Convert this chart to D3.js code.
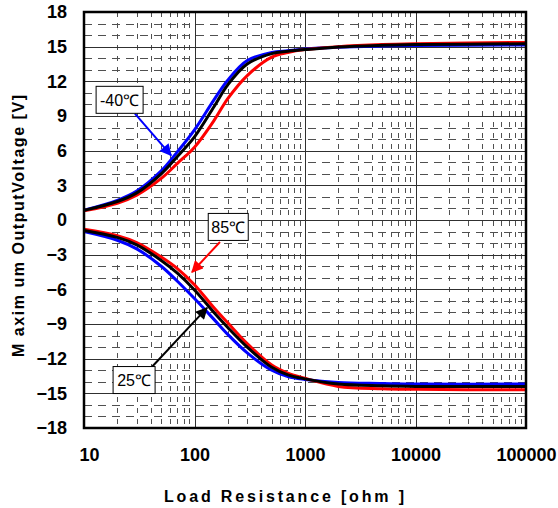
<!DOCTYPE html>
<html>
<head>
<meta charset="utf-8">
<script src="https://cdn.jsdelivr.net/npm/d3@7"></script>
<style>
  body { margin: 0; background: #fff; }
  svg text { font-family: "Liberation Sans", Arial, sans-serif; }
</style>
</head>
<body>
<div id="chart"></div>
<script>
// load resistance (ohm) sample points
var resistance = [10, 20, 30, 50, 70, 100, 150, 200, 300, 500, 700, 1000, 2000, 5000, 10000, 100000];

// max positive output voltage
var posM40 = [0.85, 1.7, 2.5, 4.25, 5.9, 7.8, 10.4, 12.1, 13.8, 14.5, 14.65, 14.8, 14.95, 15.05, 15.1, 15.15];
var pos25  = [0.83, 1.6, 2.35, 4.0, 5.5, 7.2, 9.8, 11.7, 13.5, 14.4, 14.6, 14.75, 14.98, 15.12, 15.18, 15.25];
var pos85  = [0.8, 1.45, 2.15, 3.6, 4.9, 6.3, 8.6, 10.5, 12.5, 14.1, 14.5, 14.75, 15.0, 15.18, 15.25, 15.37];

// max negative output voltage
var negM40 = [-1.0, -1.75, -2.5, -4.0, -5.3, -6.8, -8.6, -9.9, -11.5, -13.0, -13.55, -13.8, -14.07, -14.15, -14.2, -14.2];
var neg25  = [-0.9, -1.5, -2.15, -3.5, -4.6, -6.05, -8.0, -9.3, -11.0, -12.75, -13.4, -13.75, -14.2, -14.35, -14.4, -14.4];
var neg85  = [-0.8, -1.35, -1.95, -3.2, -4.2, -5.6, -7.6, -8.9, -10.7, -12.55, -13.25, -13.7, -14.4, -14.6, -14.65, -14.7];

var xTicks = [10, 100, 1000, 10000, 100000];
var yTicks = [18, 15, 12, 9, 6, 3, 0, -3, -6, -9, -12, -15, -18];

// callouts: label, box centre (R, V), arrow start (R, V), arrow tip (R, V)
var callouts = [
  {label: '-40\u2103', cx: 21, cy: 10.4, w: 47, sx: 28.9, sy: 9.2, tx: 61.4, ty: 5.6, color: '#0000ff'},
  {label: '85\u2103', cx: 202, cy: -0.6, w: 40, sx: 170, sy: -1.9, tx: 95, ty: -4.5, color: '#ff0000'},
  {label: '25\u2103', cx: 28.4, cy: -13.85, w: 42, sx: 41.3, sy: -12.7, tx: 129.8, ty: -7.6, color: '#000000'}
];

var W = 558, H = 508;
var pLeft = 84, pRight = 526, pTop = 12, pBottom = 428;

var svg = d3.select('#chart').append('svg')
    .attr('width', W)
    .attr('height', H);

var x = d3.scaleLog().domain([10, 100000]).range([pLeft, pRight]);
var y = d3.scaleLinear().domain([-18, 18]).range([pBottom, pTop]);

// minor grid
var minorX = [];
for (var d = 10; d < 100000; d *= 10) {
  for (var k = 2; k <= 9; k++) minorX.push(d * k);
}
var minorY = d3.range(-17, 18).filter(function(v) { return v % 3 !== 0; });

var grid = svg.append('g');
grid.selectAll('.minx').data(minorX).enter().append('line')
    .attr('x1', function(d) { return Math.round(x(d)) + 0.5; })
    .attr('x2', function(d) { return Math.round(x(d)) + 0.5; })
    .attr('y1', pTop).attr('y2', pBottom)
    .attr('stroke', '#505050')
    .attr('stroke-dasharray', '5,6');
grid.selectAll('.miny').data(minorY).enter().append('line')
    .attr('x1', pLeft).attr('x2', pRight)
    .attr('y1', function(d) { return Math.round(y(d)) + 0.5; })
    .attr('y2', function(d) { return Math.round(y(d)) + 0.5; })
    .attr('stroke', '#505050')
    .attr('stroke-dasharray', '8,6');

// major grid
grid.selectAll('.majx').data(xTicks.slice(1, -1)).enter().append('line')
    .attr('x1', function(d) { return Math.round(x(d)) + 0.5; })
    .attr('x2', function(d) { return Math.round(x(d)) + 0.5; })
    .attr('y1', pTop).attr('y2', pBottom)
    .attr('stroke', '#303030');
grid.selectAll('.majy').data(yTicks.slice(1, -1)).enter().append('line')
    .attr('x1', pLeft).attr('x2', pRight)
    .attr('y1', function(d) { return Math.round(y(d)) + 0.5; })
    .attr('y2', function(d) { return Math.round(y(d)) + 0.5; })
    .attr('stroke', '#303030');

// curves
var line = d3.line()
    .x(function(d) { return x(d[0]); })
    .y(function(d) { return y(d[1]); })
    .curve(d3.curveCatmullRom.alpha(0.5));

var series = [
  {v: posM40, c: '#0000ff'}, {v: pos85, c: '#ff0000'}, {v: pos25, c: '#000000'},
  {v: negM40, c: '#0000ff'}, {v: neg85, c: '#ff0000'}, {v: neg25, c: '#000000'}
];
svg.append('g').selectAll('path').data(series).enter().append('path')
    .attr('d', function(s) { return line(d3.zip(resistance, s.v)); })
    .attr('fill', 'none')
    .attr('stroke', function(s) { return s.c; })
    .attr('stroke-width', 3);

// frame
svg.append('rect')
    .attr('x', pLeft).attr('y', pTop)
    .attr('width', pRight - pLeft).attr('height', pBottom - pTop)
    .attr('fill', 'none').attr('stroke', '#000').attr('stroke-width', 2.5);

// axes
var yAxis = svg.append('g')
    .attr('transform', 'translate(' + pLeft + ',0)')
    .call(d3.axisLeft(y).tickValues(yTicks).tickSize(0).tickPadding(17));
yAxis.select('.domain').remove();
yAxis.selectAll('text')
    .attr('font-family', '"Liberation Sans", Arial, sans-serif')
    .attr('font-size', 18).attr('font-weight', 'bold').attr('fill', '#000');

var xAxis = svg.append('g')
    .attr('transform', 'translate(0,' + pBottom + ')')
    .call(d3.axisBottom(x).tickValues(xTicks).tickFormat(d3.format('d')).tickSize(0).tickPadding(20));
xAxis.select('.domain').remove();
xAxis.selectAll('text')
    .attr('font-family', '"Liberation Sans", Arial, sans-serif')
    .attr('font-size', 18).attr('font-weight', 'bold').attr('fill', '#000')
    .attr('dx', function(d, i) { return i === 0 ? 5 : 0; });

// axis titles
svg.append('text')
    .attr('x', 284).attr('y', 502)
    .attr('text-anchor', 'middle')
    .attr('font-size', 16).attr('font-weight', 'bold')
    .attr('textLength', 240).attr('lengthAdjust', 'spacing')
    .text('Load Resistance  [ohm ]');

svg.append('text')
    .attr('transform', 'translate(24,226) rotate(-90)')
    .attr('text-anchor', 'middle')
    .attr('font-size', 16).attr('font-weight', 'bold')
    .attr('textLength', 262).attr('lengthAdjust', 'spacing')
    .text('M axim um  OutputVoltage  [V]');

// callouts
var defs = svg.append('defs');
callouts.forEach(function(c, i) {
  defs.append('marker')
      .attr('id', 'arr' + i)
      .attr('viewBox', '0 0 10 10')
      .attr('refX', 9).attr('refY', 5)
      .attr('markerWidth', 7).attr('markerHeight', 6)
      .attr('markerUnits', 'strokeWidth')
      .attr('orient', 'auto')
      .append('path').attr('d', 'M0,0L10,5L0,10z').attr('fill', c.color);
});

var co = svg.append('g').selectAll('g').data(callouts).enter().append('g');
co.append('line')
    .attr('x1', function(c) { return x(c.sx); })
    .attr('y1', function(c) { return y(c.sy); })
    .attr('x2', function(c) { return x(c.tx); })
    .attr('y2', function(c) { return y(c.ty); })
    .attr('stroke', function(c) { return c.color; })
    .attr('stroke-width', 2)
    .attr('marker-end', function(c, i) { return 'url(#arr' + i + ')'; });
co.append('rect')
    .attr('x', function(c) { return x(c.cx) - c.w / 2; })
    .attr('y', function(c) { return y(c.cy) - 13.5; })
    .attr('width', function(c) { return c.w; })
    .attr('height', 27)
    .attr('fill', '#fff').attr('stroke', '#000').attr('stroke-width', 1);
co.append('text')
    .attr('x', function(c) { return x(c.cx); })
    .attr('y', function(c) { return y(c.cy) + 6; })
    .attr('text-anchor', 'middle')
    .attr('font-size', 16)
    .text(function(c) { return c.label; });
</script>
</body>
</html>
